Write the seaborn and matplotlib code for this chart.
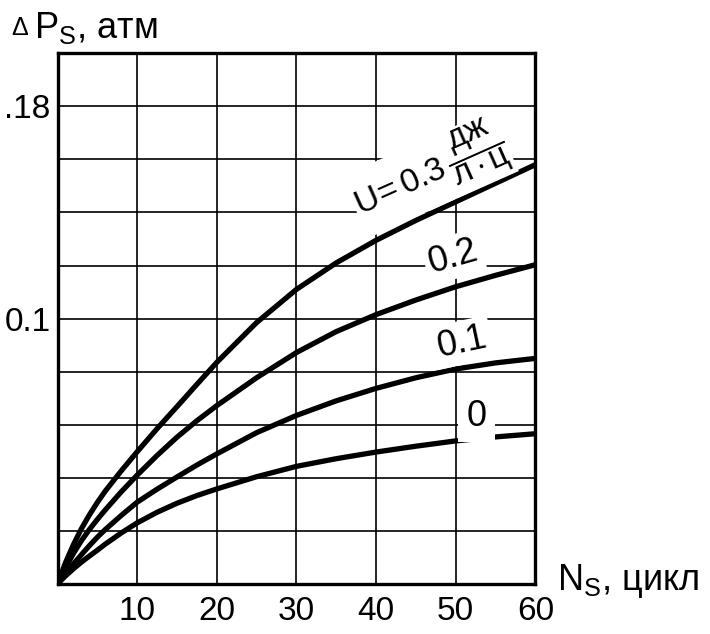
import numpy as np
import pandas as pd
import seaborn as sns
import matplotlib.pyplot as plt

# N_s, cycles
n_cycles = [0, 1, 2, 3, 4, 5, 6, 8, 10, 12.5, 15, 17.5, 20, 25, 30, 35, 40, 45, 50, 55, 60]

# delta P_s, atm, one curve per U value
dp_u0 = [0, 0.003, 0.0057, 0.0082, 0.0105, 0.0127, 0.0150, 0.0192, 0.0230, 0.0270, 0.0304,
         0.0333, 0.0358, 0.0404, 0.0443, 0.0472, 0.0497, 0.0519, 0.0539, 0.0554, 0.0566]
dp_u01 = [0, 0.0038, 0.0075, 0.011, 0.0144, 0.0176, 0.0205, 0.0258, 0.0308, 0.0357, 0.0403,
          0.0448, 0.049, 0.057, 0.0635, 0.069, 0.0737, 0.0777, 0.081, 0.0833, 0.085]
dp_u02 = [0, 0.006, 0.0115, 0.0163, 0.0205, 0.0243, 0.0279, 0.0347, 0.041, 0.0484, 0.0553,
          0.0615, 0.0672, 0.0777, 0.0872, 0.0951, 0.1015, 0.107, 0.112, 0.1163, 0.1203]
dp_u03 = [0, 0.0080, 0.0148, 0.0208, 0.026, 0.0307, 0.0350, 0.0426, 0.0498, 0.0585, 0.0668,
          0.0752, 0.0835, 0.0985, 0.111, 0.121, 0.1295, 0.137, 0.144, 0.151, 0.158]

u_values = ['0', '0.1', '0.2', '0.3']

df = pd.DataFrame({
    'N': n_cycles * 4,
    'dP': dp_u0 + dp_u01 + dp_u02 + dp_u03,
    'U': sum([[u] * len(n_cycles) for u in u_values], []),
})

sns.set_style('white')
plt.rcParams['font.family'] = ['Liberation Sans', 'DejaVu Sans']
plt.rcParams['mathtext.fontset'] = 'custom'
plt.rcParams['mathtext.rm'] = 'Liberation Sans'
plt.rcParams['mathtext.it'] = 'Liberation Sans'
plt.rcParams['mathtext.sf'] = 'Liberation Sans'
for k in ['text.color', 'xtick.color', 'ytick.color', 'axes.labelcolor']:
    plt.rcParams[k] = 'black'

fig = plt.figure(figsize=(7.1, 6.34), dpi=100)
ax = fig.add_axes([0.081, 0.079, 0.673, 0.837])

sns.lineplot(data=df, x='N', y='dP', hue='U', palette=['black'] * 4,
             linewidth=3.8, legend=False, ax=ax)

ax.set_xlim(0, 60)
ax.set_ylim(0, 0.2)
ax.set_xticks(np.arange(0, 61, 10))
ax.set_xticklabels(['', '10', '20', '30', '40', '50', '60'])
yt = np.round(np.arange(0, 0.201, 0.02), 2)
ax.set_yticks(yt)
ax.set_yticklabels(['.18' if abs(v - 0.18) < 1e-6 else '0.1' if abs(v - 0.1) < 1e-6 else '' for v in yt])
ax.tick_params(length=0, labelsize=24)
ax.tick_params(axis='x', pad=9)
ax.tick_params(axis='y', pad=5)
ax.grid(True, color='black', linewidth=1.2)
for s in ax.spines.values():
    s.set_color('black')
    s.set_linewidth(2.4)
ax.set_xlabel('')
ax.set_ylabel('')

ax.text(38.0, 0.1385, r'$\mathrm{U\!=0.3}\,\dfrac{\mathrm{дж}}{\mathrm{л \cdot ц}}$', fontsize=24,
        rotation=24, rotation_mode='anchor', ha='left', va='baseline',
        bbox=dict(facecolor='white', edgecolor='none', pad=1), zorder=5)
ax.text(47.0, 0.1172, '0.2', fontsize=26, rotation=16, rotation_mode='anchor',
        ha='left', va='baseline', bbox=dict(facecolor='white', edgecolor='none', pad=3), zorder=5)
ax.text(48.0, 0.0855, '0.1', fontsize=26, rotation=12, rotation_mode='anchor',
        ha='left', va='baseline', bbox=dict(facecolor='white', edgecolor='none', pad=3), zorder=5)
ax.text(52.6, 0.0595, '0', fontsize=26, ha='center', va='baseline',
        bbox=dict(facecolor='white', edgecolor='none', pad=6), zorder=5)

fig.text(11 / 710, 1 - 35 / 634, 'Δ', fontsize=18, va='baseline', ha='left')
fig.text(34 / 710, 1 - 38 / 634, r'$\mathrm{P_S}$, атм', fontsize=26, va='baseline', ha='left')
fig.text(557 / 710, 1 - 590 / 634, r'$\mathrm{N_S}$, цикл', fontsize=26, va='baseline', ha='left')

fig.savefig('out.png', dpi=100, facecolor='white')
